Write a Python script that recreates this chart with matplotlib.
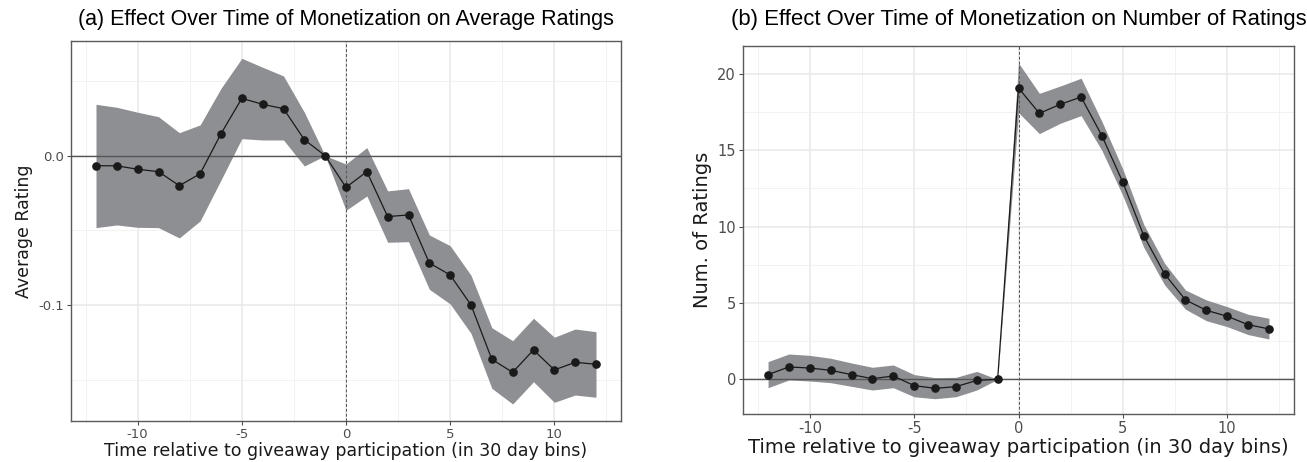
import numpy as np
import matplotlib
matplotlib.use("Agg")
import matplotlib.pyplot as plt
from matplotlib.ticker import FixedLocator, FormatStrFormatter

plt.rcParams['axes.unicode_minus'] = False
plt.rcParams['font.family'] = 'DejaVu Sans'

# event time (30 day bins)
t = np.arange(-12, 13)

# (a) average rating: estimate and 95% band
avg_est = [-0.0067, -0.0068, -0.0091, -0.0107, -0.0201, -0.0121, 0.0147, 0.0384, 0.0344,
           0.0315, 0.0107, 0.0, -0.0212, -0.0107, -0.0408, -0.0397, -0.0719, -0.0799,
           -0.1000, -0.1364, -0.1451, -0.1301, -0.1435, -0.1384, -0.1397]
avg_hi = [0.0344, 0.0324, 0.0291, 0.0261, 0.0154, 0.0206, 0.0451, 0.0652, 0.0592,
          0.0534, 0.0291, 0.0, -0.0056, 0.0054, -0.0236, -0.0221, -0.0531, -0.0603,
          -0.0801, -0.1152, -0.1239, -0.1089, -0.1216, -0.1161, -0.1179]
avg_lo = [-0.0482, -0.0464, -0.0480, -0.0482, -0.0551, -0.0437, -0.0163, 0.0114, 0.0105,
          0.0105, -0.0069, 0.0, -0.0366, -0.0270, -0.0580, -0.0576, -0.0895, -0.0993,
          -0.1190, -0.1558, -0.1663, -0.1514, -0.1652, -0.1603, -0.1618]

# (b) number of ratings: estimate and 95% band
num_est = [0.31, 0.81, 0.74, 0.59, 0.31, 0.04, 0.22, -0.41, -0.59, -0.48, -0.07, 0.0,
           19.08, 17.42, 18.01, 18.49, 15.94, 12.90, 9.41, 6.90, 5.20, 4.52, 4.13, 3.58, 3.30]
num_hi = [1.16, 1.66, 1.57, 1.38, 1.07, 0.79, 0.94, 0.31, 0.11, 0.13, 0.52, 0.0,
          20.72, 18.73, 19.21, 19.72, 16.88, 13.76, 10.15, 7.60, 5.85, 5.20, 4.76, 4.26, 4.00]
num_lo = [-0.55, -0.04, -0.11, -0.22, -0.46, -0.70, -0.55, -1.14, -1.27, -1.14, -0.70, 0.0,
          17.47, 16.09, 16.77, 17.27, 14.98, 12.03, 8.65, 6.18, 4.59, 3.84, 3.45, 2.93, 2.64]

W, H = 1307, 462
fig = plt.figure(figsize=(W / 100, H / 100), dpi=100)

band_col = '#8e8f93'
grid_major = '#e8e8e8'
grid_minor = '#f2f2f2'
border_col = '#5a5a5a'
tick_col = '#4d4d4d'


def style_panel(ax, ylim, ymajor, yminor, tick_fs, label_fs, ylabel):
    ax.set_xlim(-13.2, 13.2)
    ax.set_ylim(*ylim)
    ax.xaxis.set_major_locator(FixedLocator([-10, -5, 0, 5, 10]))
    ax.xaxis.set_minor_locator(FixedLocator([-12.5, -7.5, -2.5, 2.5, 7.5, 12.5]))
    ax.yaxis.set_major_locator(FixedLocator(ymajor))
    ax.yaxis.set_minor_locator(FixedLocator(yminor))
    ax.grid(which='major', color=grid_major, lw=1.1, zorder=0)
    ax.grid(which='minor', color=grid_minor, lw=0.7, zorder=0)
    ax.set_axisbelow(True)
    for s in ax.spines.values():
        s.set_color(border_col)
        s.set_linewidth(1.0)
    ax.tick_params(which='major', length=3, width=0.8, color=tick_col,
                   labelcolor=tick_col, labelsize=tick_fs, pad=2)
    ax.tick_params(which='minor', length=0)
    ax.set_xlabel('Time relative to giveaway participation (in 30 day bins)',
                  fontsize=label_fs, labelpad=1, color='#1a1a1a')
    ax.set_ylabel(ylabel, fontsize=label_fs, labelpad=4, color='#1a1a1a')


def draw_series(ax, est, lo, hi):
    ax.fill_between(t, lo, hi, color=band_col, lw=0, zorder=2)
    ax.axhline(0, color='#555555', lw=1.0, zorder=3)
    ax.axvline(0, color='#555555', lw=0.7, ls=(0, (3, 2)), zorder=3)
    ax.plot(t, est, color='#1a1a1a', lw=0.9, marker='o', ms=5.2, zorder=4)


# panel (a)
ax1 = fig.add_axes([71 / W, 1 - 421 / H, 550 / W, 380 / H])
draw_series(ax1, avg_est, avg_lo, avg_hi)
style_panel(ax1, (-0.1777, 0.0768), [-0.1, 0.0], [-0.15, -0.05, 0.05],
            tick_fs=9.5, label_fs=12.5, ylabel='Average Rating')
ax1.yaxis.set_major_formatter(FormatStrFormatter('%.1f'))
fig.text(346 / W, 1 - 20 / H, '(a) Effect Over Time of Monetization on Average Ratings',
         ha='center', va='center', fontsize=15.5, family='Liberation Sans')

# panel (b)
ax2 = fig.add_axes([743 / W, 1 - 414.3 / H, 551 / W, 368.6 / H])
draw_series(ax2, num_est, num_lo, num_hi)
style_panel(ax2, (-2.29, 21.85), [0, 5, 10, 15, 20], [2.5, 7.5, 12.5, 17.5],
            tick_fs=10.5, label_fs=14, ylabel='Num. of Ratings')
fig.text(1019 / W, 1 - 20 / H, '(b) Effect Over Time of Monetization on Number of Ratings',
         ha='center', va='center', fontsize=15.9, family='Liberation Sans')

fig.savefig('out.png', dpi=100)
